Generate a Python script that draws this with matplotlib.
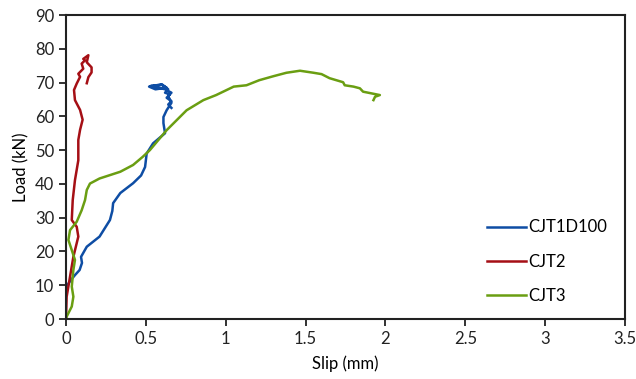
import matplotlib.pyplot as plt

plt.rcParams['font.family'] = ['Lato', 'DejaVu Sans']

# CJT1D100 (blue)
slip_1 = [0.0, 0.03, 0.056, 0.085, 0.10, 0.094, 0.13, 0.21, 0.275, 0.29, 0.295, 0.34,
          0.42, 0.47, 0.495, 0.505, 0.545, 0.62, 0.61, 0.61, 0.63, 0.66, 0.64, 0.66,
          0.62, 0.58, 0.53, 0.60, 0.63, 0.56, 0.52, 0.60, 0.64, 0.62, 0.65, 0.63, 0.66,
          0.64, 0.66]
load_1 = [9.5, 11.5, 13.0, 14.5, 16.6, 18.4, 21.4, 24.4, 29.3, 32.0, 34.3, 37.3,
          40.2, 42.5, 45.0, 49.0, 52.0, 55.0, 58.0, 59.8, 61.8, 64.0, 66.0, 67.0,
          68.0, 68.5, 69.0, 69.3, 68.5, 68.0, 68.8, 69.5, 68.0, 67.0, 66.5, 65.5, 64.5,
          63.5, 62.5]

# CJT2 (red)
slip_2 = [0.0, 0.004, 0.025, 0.046, 0.077, 0.067, 0.036, 0.042, 0.056, 0.077, 0.077,
          0.088, 0.104, 0.088, 0.056, 0.05, 0.067, 0.088, 0.077, 0.108, 0.098, 0.119,
          0.108, 0.14, 0.13, 0.16, 0.16, 0.14, 0.13]
load_2 = [0.0, 6.6, 12.5, 18.4, 24.4, 27.3, 29.3, 35.2, 41.1, 47.0, 53.0,
          56.0, 59.0, 61.9, 64.8, 67.8, 69.7, 71.7, 72.6, 74.1, 75.6, 76.6,
          77.0, 78.1, 76.0, 74.5, 73.0, 71.6, 69.8]

# CJT3 (green)
slip_3 = [0.0, 0.004, 0.036, 0.046, 0.036, 0.046, 0.056, 0.036, 0.015, 0.025, 0.067,
          0.098, 0.119, 0.13, 0.15, 0.21, 0.34, 0.42, 0.48, 0.525, 0.63, 0.755, 0.86,
          0.94, 1.05, 1.13, 1.21, 1.30, 1.38, 1.465, 1.55, 1.60, 1.65, 1.735, 1.745,
          1.80, 1.84, 1.86, 1.965, 1.935, 1.925]
load_3 = [0.0, 0.7, 3.7, 6.6, 9.6, 14.5, 17.5, 20.4, 23.4, 26.3, 28.8,
          32.2, 35.2, 38.2, 40.1, 41.6, 43.6, 45.6, 48.0, 50.0, 55.9, 61.8, 64.8,
          66.3, 68.8, 69.2, 70.7, 71.9, 72.9, 73.5, 72.9, 72.5, 71.3, 70.1, 69.2,
          68.8, 68.3, 67.3, 66.3, 65.8, 64.8]

fig = plt.figure(figsize=(6.36, 3.79), dpi=100)
ax = fig.add_axes([0.1038, 0.1583, 0.8789, 0.8021])

ax.plot(slip_1, load_1, color='#0E4DA4', lw=1.8, label='CJT1D100')
ax.plot(slip_2, load_2, color='#A50F15', lw=1.8, label='CJT2')
ax.plot(slip_3, load_3, color='#6A9E12', lw=1.8, label='CJT3')

ax.set_xlim(0, 3.5)
ax.set_ylim(0, 90)
ax.set_xticks([0, 0.5, 1, 1.5, 2, 2.5, 3, 3.5])
ax.set_xticklabels(['0', '0.5', '1', '1.5', '2', '2.5', '3', '3.5'])
ax.set_yticks(range(0, 91, 10))
ax.tick_params(direction='out', length=5, width=1.3, labelsize=12, colors='#222222')
for s in ax.spines.values():
    s.set_linewidth(1.5)
    s.set_color('#222222')

ax.set_xlabel('Slip (mm)', fontsize=12, labelpad=6)
ax.set_ylabel('Load (kN)', fontsize=12, labelpad=4)

ax.legend(loc='lower right', bbox_to_anchor=(0.995, 0.0), frameon=False,
          fontsize=12, handlelength=2.3, handletextpad=0.15, labelspacing=1.1)

fig.savefig('out.png', dpi=100)
